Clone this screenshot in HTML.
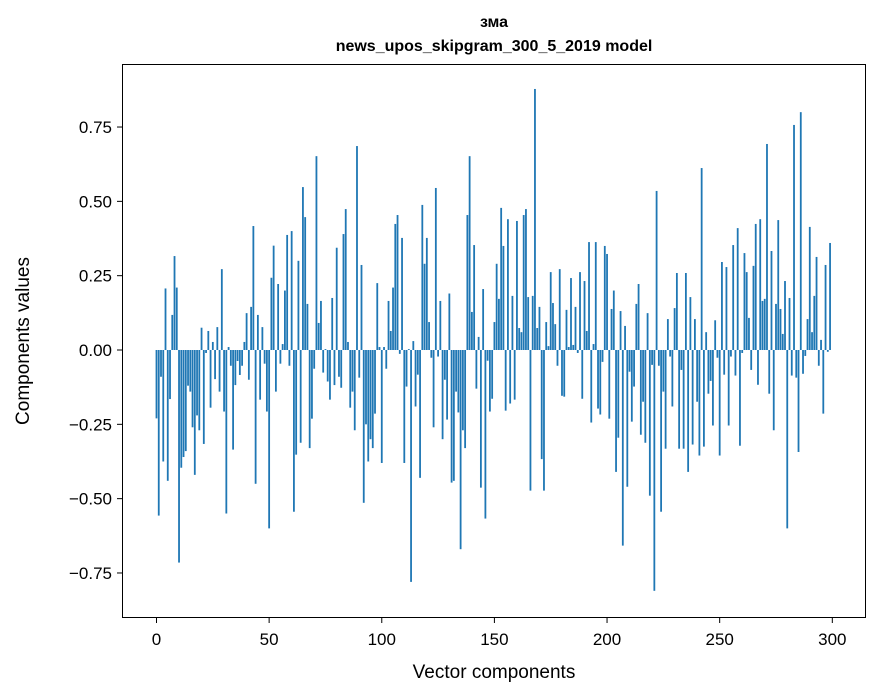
<!DOCTYPE html>
<html><head><meta charset="utf-8"><style>
body{margin:0;background:#fff}
svg{display:block;font-family:"Liberation Sans","DejaVu Sans",sans-serif}
</style></head><body>
<svg id="chart" width="880" height="696">
<rect x="0" y="0" width="880" height="696" fill="#fff"/>
<text x="494" y="27" text-anchor="middle" font-size="16" font-weight="bold">зма</text>
<text x="494" y="51" text-anchor="middle" font-size="16" font-weight="bold">news_upos_skipgram_300_5_2019 model</text>
<g id="bars"></g>
<g id="axes"></g>
<rect x="122.5" y="64.5" width="743" height="553" fill="none" stroke="#000" stroke-width="1"/>
<text x="494" y="678" text-anchor="middle" font-size="19">Vector components</text>
<text transform="translate(29,341) rotate(-90)" text-anchor="middle" font-size="19">Components values</text>
</svg>
<script>
const values0 = [-0.23,-0.557,-0.09,-0.375,0.207,-0.44,-0.165,0.118,0.316,0.21,-0.715,-0.396,-0.36,-0.34,-0.12,-0.14,-0.26,-0.42,-0.22,-0.27,0.075,-0.316,-0.01,0.064,-0.194,0.027,-0.098,0.077,-0.14,0.272,-0.207,-0.55,0.01,-0.053,-0.335,-0.118,-0.037,-0.084,-0.053,0.027,0.124,-0.1,0.145,0.417,-0.45,0.118,-0.167,0.077,-0.046,-0.207,-0.6];
const values1 = [0.243,0.351,-0.14,0.222,-0.046,0.02,0.2,0.387,-0.053,0.4,-0.544,-0.352,0.3,-0.312,0.548,0.447,0.155,-0.33,-0.231,-0.063,0.652,0.091,0.165,-0.076,0.003,-0.106,-0.167,0.175,-0.118,0.344,-0.09,-0.127,0.39,0.474,0.027,-0.194,-0.14,-0.27,0.686,-0.093,0.286,-0.514,-0.25,-0.375,-0.3,-0.33,-0.214,0.225,0.01];
const values2 = [-0.38,0.01,-0.063,0.165,0.064,0.21,0.424,0.454,-0.013,0.377,-0.38,-0.123,0.003,-0.78,0.03,-0.19,-0.083,-0.43,0.488,0.29,0.377,0.094,-0.026,-0.26,0.545,-0.022,0.165,-0.3,-0.1,-0.234,0.19,-0.446,-0.44,-0.14,-0.21,-0.67,-0.27,-0.33,0.454,0.652,0.128,0.353,-0.13,0.044,-0.463,0.205,-0.567,-0.036,-0.207,-0.164];
const values3 = [0.094,0.29,0.172,0.478,0.35,-0.204,0.44,-0.18,0.182,-0.167,0.434,0.074,0.06,0.454,0.474,0.178,-0.473,0.182,0.878,0.074,0.145,-0.367,-0.473,0.094,0.013,0.262,0.158,0.087,-0.053,0.272,-0.154,-0.157,0.135,0.01,0.242,0.017,0.145,-0.01,0.262,-0.164,0.232,0.064,0.363,-0.244,0.02,0.363,-0.197,-0.217,-0.04,0.35];
const values4 = [0.323,-0.231,0.138,0.2,-0.41,-0.295,0.131,-0.658,0.081,-0.46,-0.073,-0.241,-0.123,0.155,0.222,-0.285,-0.174,-0.312,0.124,-0.49,-0.05,-0.81,0.535,-0.053,-0.544,-0.14,-0.332,0.104,-0.022,-0.19,0.141,0.259,-0.332,-0.067,-0.332,0.259,-0.41,0.178,-0.318,0.104,-0.174,-0.355,0.612,-0.325,0.06,-0.147,-0.104,-0.254,0.1,-0.026];
const values5 = [-0.355,0.296,-0.083,0.279,-0.254,-0.022,0.353,-0.086,0.41,-0.322,-0.01,0.326,0.262,0.108,-0.067,0.283,0.424,-0.117,0.44,0.165,0.172,0.693,-0.147,0.333,-0.27,0.155,0.437,0.138,0.054,0.232,-0.6,0.175,-0.086,0.757,-0.093,-0.343,0.8,-0.08,-0.02,0.104,0.414,0.06,0.182,0.313,-0.053,0.034,-0.214,0.286,-0.006,0.36];
const values = values0.concat(values1, values2, values3, values4, values5);
const xTicks = [0,50,100,150,200,250,300];
const yTicks = [-0.75,-0.5,-0.25,0,0.25,0.5,0.75];
const yTickLabels = ["\u22120.75","\u22120.50","\u22120.25","0.00","0.25","0.50","0.75"];

const NS = "http://www.w3.org/2000/svg";
function xScale(i){ return 156.5 + i*2.2527; }
function yScale(v){ return 350 - v*297.3; }
const barsG = document.getElementById('bars');
values.forEach((v,i)=>{
  const r = document.createElementNS(NS,'rect');
  const y0 = yScale(0), y1 = yScale(v);
  r.setAttribute('x', xScale(i)-0.9);
  r.setAttribute('width', 1.8);
  r.setAttribute('y', Math.min(y0,y1));
  r.setAttribute('height', Math.max(Math.abs(y1-y0),0.3));
  r.setAttribute('fill','#1f77b4');
  
  
  barsG.appendChild(r);
});
const axesG = document.getElementById('axes');
xTicks.forEach(t=>{
  const x = xScale(t);
  const l = document.createElementNS(NS,'line');
  l.setAttribute('x1',x);l.setAttribute('x2',x);l.setAttribute('y1',618);l.setAttribute('y2',623);
  l.setAttribute('stroke','#000');
  
  
  axesG.appendChild(l);
  const tx = document.createElementNS(NS,'text');
  tx.setAttribute('x',x);tx.setAttribute('y',645);tx.setAttribute('text-anchor','middle');tx.setAttribute('font-size','17');
  tx.textContent = t;
  
  
  axesG.appendChild(tx);
});
yTicks.forEach((t,k)=>{
  const y = yScale(t);
  const l = document.createElementNS(NS,'line');
  l.setAttribute('x1',117);l.setAttribute('x2',122);l.setAttribute('y1',y);l.setAttribute('y2',y);
  l.setAttribute('stroke','#000');
  
  
  axesG.appendChild(l);
  const tx = document.createElementNS(NS,'text');
  tx.setAttribute('x',112);tx.setAttribute('y',y+6);tx.setAttribute('text-anchor','end');tx.setAttribute('font-size','17');
  tx.textContent = yTickLabels[k];
  
  
  axesG.appendChild(tx);
});
</script>
</body></html>
